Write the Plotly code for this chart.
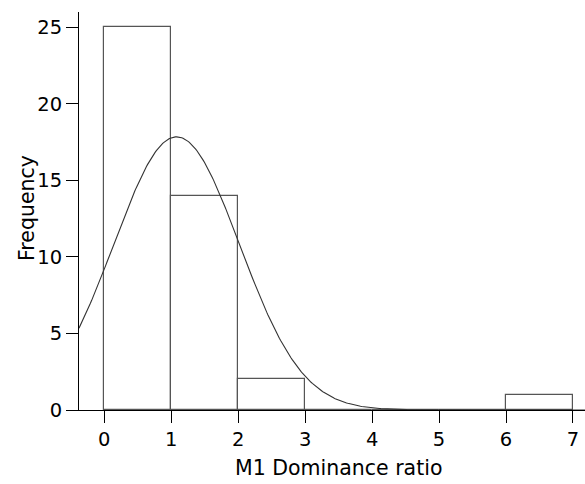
import numpy as np
import plotly.graph_objects as go

# Histogram data
bin_starts = [0, 1, 2, 3, 4, 5, 6]
frequencies = [25, 14, 2, 0, 0, 0, 1]
bin_width = 1

# Fitted normal curve parameters
curve_mean = 1.08
curve_sd = 0.939
n_total = 42

x_ticks = [0, 1, 2, 3, 4, 5, 6, 7]
y_ticks = [0, 5, 10, 15, 20, 25]

x_title = "M1 Dominance ratio"
y_title = "Frequency"

x_range = [-0.378, 7.18]
y_range = [0, 26]

centers = [b + bin_width / 2 for b in bin_starts]

xs = np.linspace(x_range[0], x_range[1], 400)
ys = n_total * bin_width / (curve_sd * np.sqrt(2 * np.pi)) * np.exp(-0.5 * ((xs - curve_mean) / curve_sd) ** 2)

fig = go.Figure()
fig.add_trace(go.Bar(
    x=centers, y=frequencies, width=[bin_width] * len(centers),
    marker=dict(color="white", line=dict(color="#555555", width=1.2)),
    showlegend=False, hoverinfo="x+y",
))
fig.add_trace(go.Scatter(
    x=xs, y=ys, mode="lines",
    line=dict(color="#333333", width=1.1),
    showlegend=False, hoverinfo="skip",
))

fam = "DejaVu Sans, Verdana, sans-serif"
tick_font = dict(family=fam, size=19.5, color="black")
title_font = dict(family=fam, size=20.5, color="black")

fig.update_layout(
    width=585, height=484,
    margin=dict(l=79, r=0, t=12, b=74),
    paper_bgcolor="white", plot_bgcolor="white",
    font=tick_font,
    bargap=0,
    xaxis=dict(
        range=x_range, tickvals=x_ticks, ticks="outside", ticklen=12, tickwidth=1,
        tickcolor="black", showline=True, linecolor="black", linewidth=1,
        showgrid=False, zeroline=False, automargin=False,
        tickfont=tick_font,
    ),
    yaxis=dict(
        range=y_range, tickvals=y_ticks, ticks="outside", ticklen=12, tickwidth=1,
        tickcolor="black", showline=True, linecolor="black", linewidth=1,
        showgrid=False, zeroline=False, automargin=False,
        tickfont=tick_font,
    ),
    annotations=[
        dict(text=x_title, xref="paper", yref="paper", x=0.5, y=0,
             xanchor="center", yanchor="middle", xshift=6, yshift=-58,
             showarrow=False, font=title_font),
        dict(text=y_title, xref="paper", yref="paper", x=0, y=0.5,
             xanchor="center", yanchor="middle", xshift=-52, yshift=3,
             textangle=-90, showarrow=False, font=title_font),
    ],
)

fig.write_html(
    "out.html",
    config={"displayModeBar": False},
    post_script="document.body.style.margin='0';document.body.style.padding='0';",
)
